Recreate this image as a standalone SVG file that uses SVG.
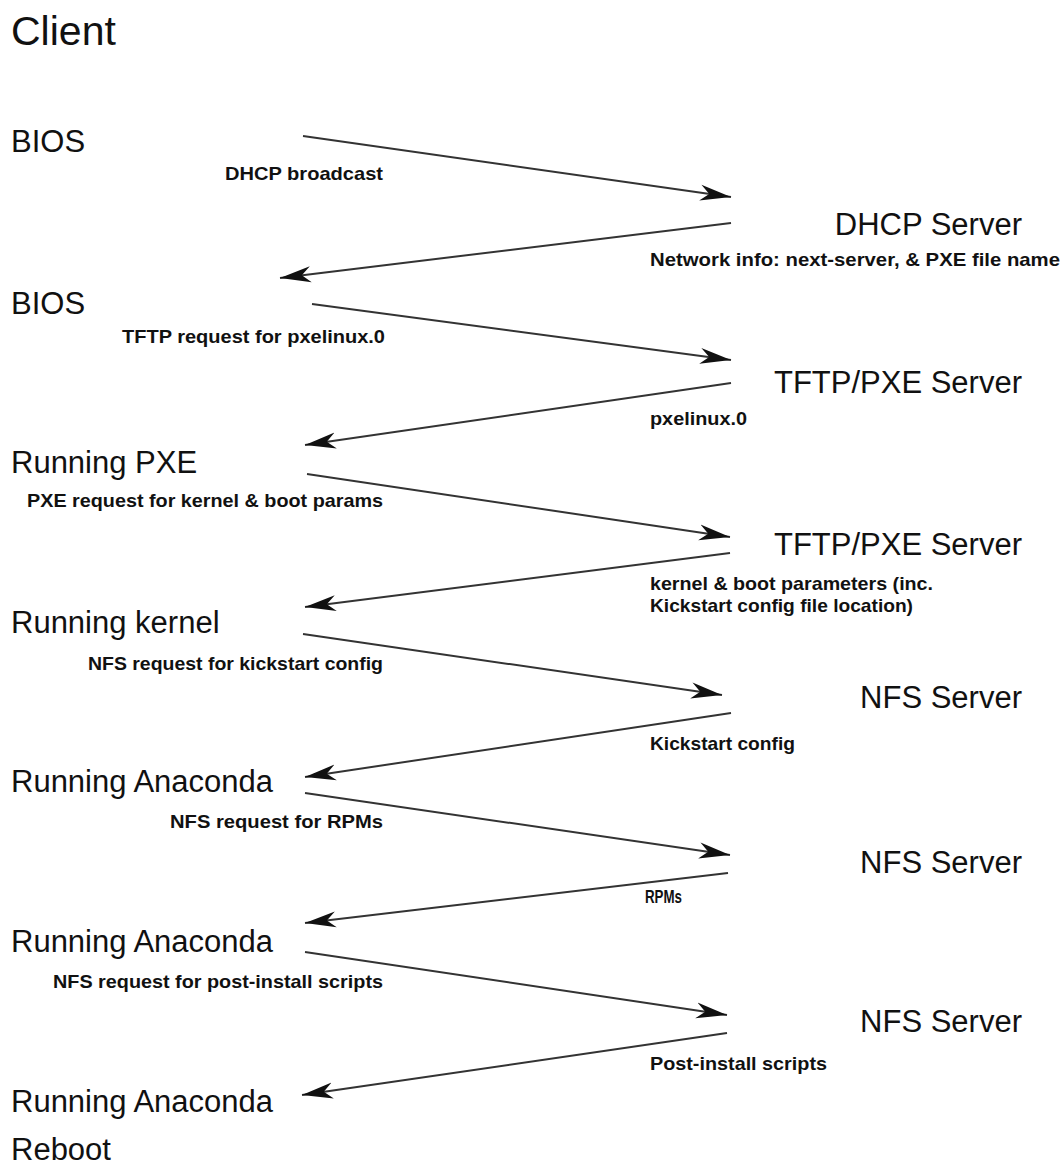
<svg xmlns="http://www.w3.org/2000/svg" width="1061" height="1168" viewBox="0 0 1061 1168">
<style>
.big{font-family:"Liberation Sans",Arial,sans-serif;font-size:31px;fill:#111}
.title{font-family:"Liberation Sans",Arial,sans-serif;font-size:41px;fill:#111}
.sm{font-family:"Liberation Sans",Arial,sans-serif;font-size:19px;font-weight:bold;fill:#111}
.srv{text-anchor:end}
.edge{stroke:#333;stroke-width:2;fill:none;marker-end:url(#ah)}
</style>
<defs>
<marker id="ah" markerUnits="userSpaceOnUse" markerWidth="34" markerHeight="20" refX="31" refY="9" orient="auto">
<path d="M31,9 L0,1 L9,9 L0,17 Z" fill="#111"/>
</marker>
</defs>
<rect width="1061" height="1168" fill="#fff"/>
<g id="client"><text class="title" x="11" y="45">Client</text></g>
<g id="c1"><text class="big" x="11" y="152">BIOS</text></g>
<g id="c2"><text class="big" x="11" y="314">BIOS</text></g>
<g id="c3"><text class="big" x="11" y="473">Running PXE</text></g>
<g id="c4"><text class="big" x="11" y="633">Running kernel</text></g>
<g id="c5"><text class="big" x="11" y="792">Running Anaconda</text></g>
<g id="c6"><text class="big" x="11" y="952">Running Anaconda</text></g>
<g id="c7"><text class="big" x="11" y="1112">Running Anaconda</text></g>
<g id="c8"><text class="big" x="11" y="1160">Reboot</text></g>
<g id="s1"><text class="big srv" x="1022" y="235">DHCP Server</text></g>
<g id="s2"><text class="big srv" x="1022" y="393">TFTP/PXE Server</text></g>
<g id="s3"><text class="big srv" x="1022" y="555">TFTP/PXE Server</text></g>
<g id="s4"><text class="big srv" x="1022" y="708">NFS Server</text></g>
<g id="s5"><text class="big srv" x="1022" y="873">NFS Server</text></g>
<g id="s6"><text class="big srv" x="1022" y="1032">NFS Server</text></g>
<g id="connectors">
<line class="edge" x1="303" y1="136" x2="731" y2="197"/>
<line class="edge" x1="731" y1="223" x2="280" y2="278"/>
<line class="edge" x1="312" y1="304" x2="731" y2="360"/>
<line class="edge" x1="731" y1="383" x2="305" y2="445"/>
<line class="edge" x1="307" y1="474" x2="730" y2="537"/>
<line class="edge" x1="730" y1="553" x2="305" y2="607"/>
<line class="edge" x1="303" y1="634" x2="722" y2="695"/>
<line class="edge" x1="731" y1="713" x2="305" y2="777"/>
<line class="edge" x1="305" y1="793" x2="730" y2="855"/>
<line class="edge" x1="728" y1="873" x2="305" y2="923"/>
<line class="edge" x1="305" y1="952" x2="727" y2="1015"/>
<line class="edge" x1="727" y1="1033" x2="302" y2="1095"/>
</g>
<g id="labels">
<text class="sm" x="225" y="180" textLength="158" lengthAdjust="spacingAndGlyphs">DHCP broadcast</text>
<text class="sm" x="650" y="266" textLength="410" lengthAdjust="spacingAndGlyphs">Network info: next-server, &amp; PXE file name</text>
<text class="sm" x="122" y="343" textLength="263" lengthAdjust="spacingAndGlyphs">TFTP request for pxelinux.0</text>
<text class="sm" x="650" y="425" textLength="97" lengthAdjust="spacingAndGlyphs">pxelinux.0</text>
<text class="sm" x="27" y="507" textLength="356" lengthAdjust="spacingAndGlyphs">PXE request for kernel &amp; boot params</text>
<text class="sm" x="650" y="590" textLength="283" lengthAdjust="spacingAndGlyphs">kernel &amp; boot parameters (inc.</text>
<text class="sm" x="650" y="612" textLength="263" lengthAdjust="spacingAndGlyphs">Kickstart config file location)</text>
<text class="sm" x="88" y="670" textLength="295" lengthAdjust="spacingAndGlyphs">NFS request for kickstart config</text>
<text class="sm" x="650" y="750" textLength="145" lengthAdjust="spacingAndGlyphs">Kickstart config</text>
<text class="sm" x="170" y="828" textLength="213" lengthAdjust="spacingAndGlyphs">NFS request for RPMs</text>
<text class="sm" x="645" y="903" textLength="37" lengthAdjust="spacingAndGlyphs">RPMs</text>
<text class="sm" x="53" y="988" textLength="330" lengthAdjust="spacingAndGlyphs">NFS request for post-install scripts</text>
<text class="sm" x="650" y="1070" textLength="177" lengthAdjust="spacingAndGlyphs">Post-install scripts</text>
</g>
</svg>
